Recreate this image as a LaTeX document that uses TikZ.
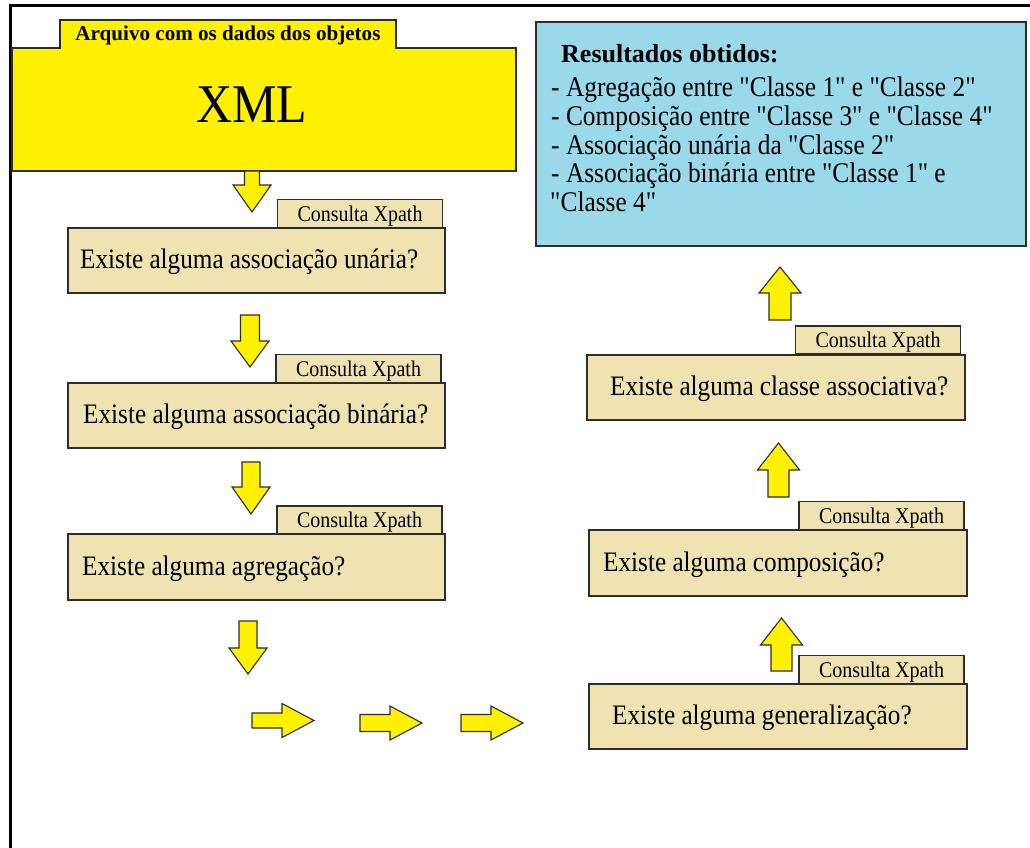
\documentclass[tikz,border=0pt]{standalone}
\usepackage{graphicx}
\usepackage{fontspec}
\setmainfont{Liberation Serif}[Ligatures=TeXOff]
\definecolor{xyellow}{RGB}{255,241,0}
\definecolor{qtan}{RGB}{238,227,177}
\definecolor{rblue}{RGB}{153,217,234}
\definecolor{edge}{RGB}{45,45,45}
% slightly tall lettering
\newcommand\tall[1]{\scalebox{1}[1.12]{#1}}
% vertical block arrow: centre x, tail y, head start y, tip y, shaft half width, head half width
\newcommand\vblock[6]{%
  \draw[blockarrow] ({#1-#5},#2) -- ({#1+#5},#2) -- ({#1+#5},#3) -- ({#1+#6},#3)
    -- (#1,#4) -- ({#1-#6},#3) -- ({#1-#5},#3) -- cycle;}
% horizontal block arrow: centre y, tail x, head start x, tip x, shaft half width, head half width
\newcommand\hblock[6]{%
  \draw[blockarrow] (#2,{#1-#5}) -- (#3,{#1-#5}) -- (#3,{#1-#6}) -- (#4,#1)
    -- (#3,{#1+#6}) -- (#3,{#1+#5}) -- (#2,{#1+#5}) -- cycle;}
\tikzset{
  blockarrow/.style={draw=edge, fill=xyellow, line width=1.1pt, line join=miter},
  qbox/.style={draw=edge, fill=qtan, line width=1.2pt, inner sep=0pt},
  tabbox/.style={qbox, minimum width=165pt, minimum height=28pt},
  tabtext/.style={font=\fontsize{20}{24}\selectfont, inner sep=0pt, anchor=base},
  qtext/.style={font=\fontsize{25.2}{30}\selectfont, inner sep=0pt, anchor=base west},
  rtext/.style={font=\fontsize{25.4}{29}\selectfont, inner sep=0pt, anchor=base west},
}
\begin{document}
\begin{tikzpicture}[x=1pt, y=-1pt]
\useasboundingbox (0,0) rectangle (1030,848);

% page frame (top and left only)
\draw[line width=3pt] (10,848) -- (10,5.5) -- (1030,5.5);

% XML source file with its title tab
\draw[draw=edge, fill=xyellow, line width=1.2pt]
  (12,48) -- (60,48) -- (60,20) -- (396,20) -- (396,48) -- (516,48)
  -- (516,171) -- (12,171) -- cycle;
\node[font=\bfseries\fontsize{21.1}{24}\selectfont, inner sep=0pt, anchor=base]
  (title) at (228,41) {Arquivo com os dados dos objetos};
\node[font=\fontsize{50}{56}\selectfont, inner sep=0pt, anchor=base]
  (xml) at (252,123) {\scalebox{1}[1.09]{XML}};

% left column of questions
\node[qbox, minimum width=377pt, minimum height=65pt] (q1) at (256.5,260.5) {};
\node[tabbox] (t1) at (360,213.5) {};
\node[tabtext] at ([yshift=-7.5pt]t1.center) {\tall{Consulta Xpath}};
\node[qtext] (q1t) at (80,268) {\tall{Existe alguma associação unária?}};

\node[qbox, minimum width=377pt, minimum height=65pt] (q2) at (256.5,415.5) {};
\node[tabbox] (t2) at (358.5,368.5) {};
\node[tabtext] at ([yshift=-7.5pt]t2.center) {\tall{Consulta Xpath}};
\node[qtext] (q2t) at (83,423) {\tall{Existe alguma associação binária?}};

\node[qbox, minimum width=377pt, minimum height=66pt] (q3) at (256.5,567) {};
\node[tabbox] (t3) at (359.5,520) {};
\node[tabtext] at ([yshift=-7.5pt]t3.center) {\tall{Consulta Xpath}};
\node[qtext] (q3t) at (82,575) {\tall{Existe alguma agregação?}};

% right column of questions
\node[qbox, minimum width=378pt, minimum height=65pt] (qg) at (778,716.5) {};
\node[tabbox] (tg) at (881.5,669.5) {};
\node[tabtext] at ([yshift=-7.5pt]tg.center) {\tall{Consulta Xpath}};
\node[qtext] (qgt) at (612,724) {\tall{Existe alguma generalização?}};

\node[qbox, minimum width=378pt, minimum height=66pt] (qc) at (778,563) {};
\node[tabbox] (tc) at (881.5,515.5) {};
\node[tabtext] at ([yshift=-7.5pt]tc.center) {\tall{Consulta Xpath}};
\node[qtext] (qct) at (603,571) {\tall{Existe alguma composição?}};

\node[qbox, minimum width=378pt, minimum height=65pt] (qa) at (776,387.5) {};
\node[tabbox] (ta) at (878,340) {};
\node[tabtext] at ([yshift=-7.5pt]ta.center) {\tall{Consulta Xpath}};
\node[qtext] (qat) at (610,395) {\tall{Existe alguma classe associativa?}};

% results panel
\node[draw=edge, fill=rblue, line width=1.2pt, inner sep=0pt,
      minimum width=490pt, minimum height=224pt] (res) at (781,134) {};
\node[font=\bfseries\fontsize{26}{30}\selectfont, inner sep=0pt, anchor=base west]
  (rh) at (561,63) {Resultados obtidos:};
\node[rtext] (r1) at (551,97) {\tall{- Agregação entre "Classe 1" e "Classe 2"}};
\node[rtext] (r2) at (551,125.5) {\tall{- Composição entre "Classe 3" e "Classe 4"}};
\node[rtext] (r3) at (551,154) {\tall{- Associação unária da "Classe 2"}};
\node[rtext] (r4) at (551,182.5) {\tall{- Associação binária entre "Classe 1" e}};
\node[rtext] (r5) at (550,211) {\tall{"Classe 4"}};

% flow arrows, down the left column
\vblock{252}{171}{185}{212}{7.5}{19}
\vblock{250}{315}{341}{367}{9.5}{19}
\vblock{251}{462}{487}{514}{9}{19}
\vblock{248}{621}{648}{674}{9}{19}
% across the bottom
\hblock{720.5}{252}{282}{314}{7.5}{17}
\hblock{723}{360}{390}{422}{8.5}{17}
\hblock{723}{461}{491}{523}{8.5}{17}
% up the right column
\vblock{781.5}{671}{645}{618}{10.5}{21}
\vblock{778.5}{497}{470}{443}{10.5}{21}
\vblock{780}{320}{293}{267}{11}{21}
\end{tikzpicture}
\end{document}
